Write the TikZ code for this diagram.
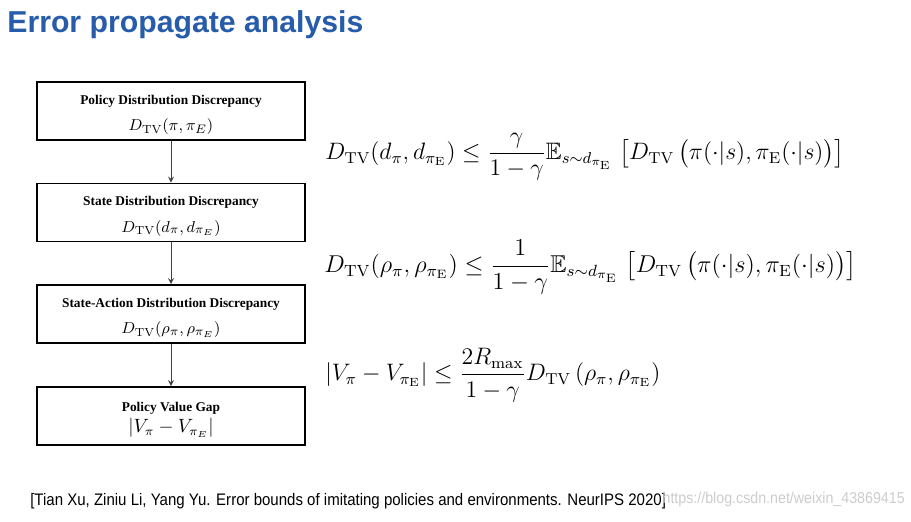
\documentclass[tikz,border=0pt]{standalone}
\usepackage{amsmath}
\usepackage{amssymb}
\usepackage{fontspec}
\setsansfont{Liberation Sans}
\newfontfamily\boxfont{Liberation Serif}
\usepackage{tikz}

\definecolor{titleblue}{RGB}{38,92,170}
\definecolor{markgray}{RGB}{205,205,205}

\tikzset{
	stagebox/.style={draw, line width=1.1pt, minimum width=5.36cm, minimum height=1.16cm, align=center, inner sep=0pt},
	flow/.style={->, >=stealth, draw=black!75, line width=0.5pt},
	bound/.style={anchor=west, inner sep=0pt, font=\fontsize{12}{14}\selectfont}
}
\newcommand{\boxhead}[1]{{\boxfont\bfseries\fontsize{7.6}{9}\selectfont\rule{0pt}{9.5pt}#1}}
\newcommand{\tv}{D_{\mathrm{TV}}}

\begin{document}
\begin{tikzpicture}[x=0.02cm, y=-0.02cm]
	\useasboundingbox[fill=white] (0,0) rectangle (911,521);
	%\draw[help lines] (0,0) grid[step=50] (911,521);
	\node[anchor=west, inner sep=0pt, text=titleblue, font=\sffamily\bfseries\fontsize{17.2}{19}\selectfont] (title) at (7,25) {Error propagate analysis};

	% chain of discrepancies
	\node[stagebox] (policy) at (171,111) {\boxhead{Policy Distribution Discrepancy}\\[3pt] \fontsize{9.5}{11}\selectfont $\tv(\pi,\pi_E)$\hspace{13pt}};
	\node[stagebox] (state) at (171,212.5) {\boxhead{State Distribution Discrepancy}\\[3pt] \fontsize{9.5}{11}\selectfont $\tv(d_\pi,d_{\pi_E})$\hspace{13pt}};
	\node[stagebox] (stact) at (171,314) {\boxhead{State-Action Distribution Discrepancy}\\[3pt] \fontsize{9.5}{11}\selectfont $\tv(\rho_\pi,\rho_{\pi_E})$\hspace{13pt}};
	\node[stagebox] (gap) at (171,416) {\boxhead{Policy Value Gap}\\[0pt] \fontsize{10.5}{12}\selectfont $|V_\pi-V_{\pi_E}|$};
	\draw[flow] (policy) -- (state);
	\draw[flow] (state) -- (stact);
	\draw[flow] (stact) -- (gap);

	% bounds
	\node[bound] (eqstate) at (325,157) {\scalebox{1.126}{$\displaystyle \tv(d_\pi,d_{\pi_{\mathrm{E}}})\leq\frac{\gamma}{1-\gamma}\mathbb{E}_{s\sim d_{\pi_{\mathrm{E}}}}\;\bigl[\tv\,\bigl(\pi(\cdot|s),\pi_{\mathrm{E}}(\cdot|s)\bigr)\bigr]$}};
	\node[bound] (eqstact) at (324,267) {\scalebox{1.155}{$\displaystyle \tv(\rho_\pi,\rho_{\pi_{\mathrm{E}}})\leq\frac{1}{1-\gamma}\mathbb{E}_{s\sim d_{\pi_{\mathrm{E}}}}\;\bigl[\tv\,\bigl(\pi(\cdot|s),\pi_{\mathrm{E}}(\cdot|s)\bigr)\bigr]$}};
	\node[bound] (eqgap) at (325,375) {\scalebox{1.13}{$\displaystyle |V_\pi-V_{\pi_{\mathrm{E}}}|\leq\frac{2R_{\max}}{1-\gamma}\tv\left(\rho_\pi,\rho_{\pi_{\mathrm{E}}}\right)$}};

	\node[anchor=west, inner sep=0pt, xscale=0.9, font=\sffamily\fontsize{9.5}{11}\selectfont] (cite) at (30,501) {[Tian Xu, Ziniu Li, Yang Yu. Error bounds of imitating policies and environments. NeurIPS 2020]};
	\node[anchor=east, inner sep=0pt, xscale=0.9, text=markgray, font=\sffamily\fontsize{9}{10}\selectfont] (mark) at (905,499) {https://blog.csdn.net/weixin\_43869415};
\end{tikzpicture}
\end{document}
